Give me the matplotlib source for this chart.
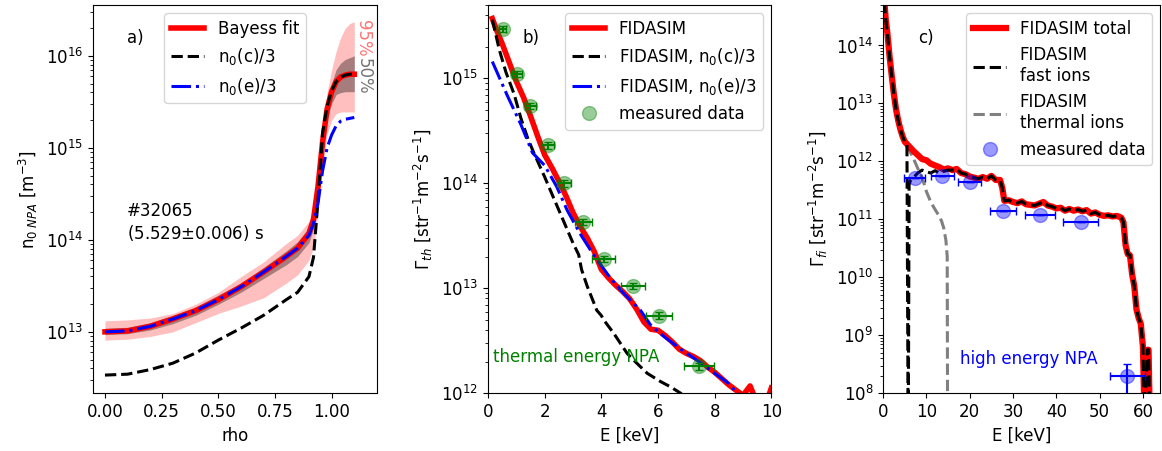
import numpy as np
import matplotlib
matplotlib.use('Agg')
import matplotlib.pyplot as plt

plt.rcParams['font.size'] = 12

######## DATA
# a) neutral density profiles (log10 values)
rho = [0, 0.1, 0.2, 0.3, 0.4, 0.5, 0.6, 0.7, 0.8, 0.85, 0.9, 0.92, 0.94, 0.96, 0.98, 1.0, 1.02, 1.04, 1.06, 1.08, 1.1]
bayes_log = [13.0, 13.01, 13.06, 13.14, 13.23, 13.35, 13.49, 13.65, 13.82, 13.91, 14.07, 14.22, 14.58, 15.06, 15.42, 15.61, 15.72, 15.77, 15.79, 15.80, 15.80]
n0c_log = [12.53, 12.54, 12.59, 12.66, 12.77, 12.91, 13.04, 13.18, 13.35, 13.43, 13.6, 13.81, 14.43, 15.16, 15.45, 15.62, 15.72, 15.77, 15.79, 15.80, 15.80]
n0e_log = [13.0, 13.01, 13.06, 13.14, 13.23, 13.35, 13.49, 13.65, 13.82, 13.91, 14.05, 14.18, 14.4, 14.75, 15.0, 15.14, 15.24, 15.29, 15.31, 15.32, 15.33]
lo95_log = [12.91, 12.92, 12.95, 13.0, 13.1, 13.2, 13.28, 13.37, 13.53, 13.62, 13.78, 13.92, 14.3, 14.8, 15.15, 15.3, 15.37, 15.39, 15.39, 15.39, 15.39]
hi95_log = [13.12, 13.13, 13.15, 13.2, 13.3, 13.43, 13.6, 13.76, 13.96, 14.05, 14.2, 14.35, 14.75, 15.25, 15.6, 15.85, 16.05, 16.2, 16.3, 16.35, 16.37]
lo50_log = [12.97, 12.98, 13.02, 13.09, 13.18, 13.3, 13.43, 13.58, 13.73, 13.82, 13.97, 14.12, 14.48, 14.95, 15.3, 15.48, 15.58, 15.6, 15.61, 15.61, 15.61]
hi50_log = [13.04, 13.05, 13.1, 13.18, 13.27, 13.4, 13.53, 13.7, 13.88, 13.98, 14.13, 14.3, 14.65, 15.13, 15.5, 15.7, 15.85, 15.92, 15.96, 15.98, 16.0]

# b) thermal fluxes
E_fid = [0.15, 0.3, 0.5, 0.75, 1.0, 1.25, 1.5, 1.75, 2.0, 2.25, 2.5, 2.75, 3.0, 3.25, 3.5, 3.75, 4.0, 4.25, 4.5, 4.75,
         5.0, 5.25, 5.5, 5.75, 6.0, 6.25, 6.5, 6.75, 7.0, 7.25, 7.5, 7.75, 8.0, 8.25, 8.5, 8.75, 9.0, 9.25, 9.4, 9.9, 10.0]
fid_log = [15.57, 15.46, 15.33, 15.15, 14.97, 14.82, 14.64, 14.45, 14.27, 14.15, 14.02, 13.88, 13.72, 13.59, 13.48, 13.35,
           13.18, 13.10, 13.03, 12.97, 12.90, 12.80, 12.68, 12.61, 12.60, 12.55, 12.49, 12.42, 12.38, 12.35, 12.31, 12.25,
           12.20, 12.14, 12.08, 12.03, 11.98, 12.07, 11.97, 11.97, 12.05]
E_fid_c = [0.15, 0.4, 0.63, 0.92, 1.16, 1.4, 1.6, 1.8, 2.0, 2.3, 2.65, 3.0, 3.2, 3.3, 3.5, 3.84, 4.0, 4.08, 4.44, 4.91,
           5.2, 5.62, 6.1, 6.45, 6.8, 7.0]
fid_c_log = [15.56, 15.27, 15.06, 14.85, 14.62, 14.43, 14.30, 14.18, 14.06, 13.87, 13.65, 13.43, 13.32, 13.18, 13.02,
             12.79, 12.74, 12.70, 12.57, 12.38, 12.30, 12.19, 12.11, 12.06, 12.0, 11.95]
E_fid_e = [0.15, 0.69, 1.16, 1.57, 2.0, 2.42, 2.8, 3.25, 3.72, 4.31, 4.79, 5.38, 5.74, 6.21, 6.8, 7.4, 8.0, 8.46, 8.7, 9.0]
fid_e_log = [15.16, 14.83, 14.56, 14.29, 14.17, 13.97, 13.74, 13.52, 13.32, 13.10, 12.95, 12.79, 12.65, 12.54, 12.42,
             12.31, 12.19, 12.10, 12.03, 11.95]
E_meas_th = [0.52, 1.03, 1.49, 2.10, 2.69, 3.36, 4.08, 5.12, 6.03, 7.43]
flux_meas_th = [2.97e15, 1.1e15, 5.5e14, 2.3e14, 1.0e14, 4.3e13, 1.9e13, 1.05e13, 5.5e12, 1.8e12]
E_err_th = [0.12, 0.18, 0.2, 0.22, 0.25, 0.3, 0.4, 0.43, 0.45, 0.53]

# c) fast ion fluxes
E_tot = [0.3, 0.6, 1.0, 1.5, 2.0, 2.5, 3.0, 3.5, 4.0, 4.5, 5.0, 5.5, 6.0, 7.0, 8.0, 9.0, 10, 11, 12, 13, 14, 15, 16, 17, 18,
         19, 20, 21, 22, 23, 24, 25, 26, 27, 27.5, 28, 29, 30, 31, 32, 33, 34, 35, 36, 37, 38, 39, 40, 41, 42, 43, 44,
         45, 46, 47, 48, 49, 50, 51, 52, 53, 54, 55, 55.5, 56, 56.5, 57, 57.5, 58, 58.5, 59, 59.5, 60, 60.4, 61, 61.3, 61.6]
tot_log = [14.75, 14.45, 14.2, 13.8, 13.47, 13.15, 12.89, 12.7, 12.55, 12.43, 12.34, 12.30, 12.26, 12.18, 12.11, 12.04,
           12.02, 11.96, 11.93, 11.90, 11.86, 11.88, 11.85, 11.87, 11.80, 11.78, 11.74, 11.72, 11.70, 11.73, 11.70, 11.75,
           11.68, 11.68, 11.55, 11.32, 11.33, 11.30, 11.28, 11.31, 11.26, 11.25, 11.24, 11.27, 11.30, 11.24, 11.22, 11.19,
           11.20, 11.15, 11.18, 11.15, 11.17, 11.14, 11.16, 11.10, 11.12, 11.08, 11.06, 11.07, 11.05, 11.06, 11.03, 10.95,
           10.55, 10.40, 10.38, 10.05, 9.85, 9.45, 9.30, 9.20, 8.80, 7.5, 8.75, 8.75, 7.5]
E_fast = [0.3, 0.6, 1.0, 1.5, 2.0, 2.5, 3.0, 3.5, 4.0, 4.5, 5.0, 5.5, 5.8, 6.0, 6.3, 7.0, 8.0, 9.0, 10, 11, 12, 13, 14, 15, 16]
fast_log = [14.75, 14.45, 14.2, 13.8, 13.47, 13.15, 12.89, 12.7, 12.55, 12.43, 12.34, 12.30, 7.0, 11.60, 11.67, 11.72,
            11.80, 11.85, 11.82, 11.80, 11.84, 11.80, 11.83, 11.85, 11.85]
E_therm = [0.3, 0.6, 1.0, 1.5, 2.0, 2.5, 3.0, 3.5, 4.0, 4.5, 5.0, 5.5, 6.0, 7, 8, 9, 10, 11, 12, 13, 13.5, 14, 14.5, 14.8, 14.9]
therm_log = [14.75, 14.45, 14.2, 13.8, 13.47, 13.15, 12.89, 12.7, 12.55, 12.43, 12.34, 12.28, 12.2, 12.05, 11.88, 11.73,
             11.48, 11.3, 11.17, 11.05, 10.97, 10.85, 10.64, 10.36, 7.0]
E_meas_fi = [7.3, 13.7, 20.0, 27.7, 36.2, 45.6, 56.4]
flux_meas_fi = [5.1e11, 5.5e11, 4.5e11, 1.4e11, 1.2e11, 9e10, 1.95e8]
E_err_fi = [2.4, 2.6, 2.7, 3.1, 3.5, 4.0, 4.0]
flux_err_fi = [[0, 0, 0, 0, 0, 0, 1.3e8], [0, 0, 0, 0, 0, 0, 1.3e8]]
#####################

fig = plt.figure(figsize=(11.62, 4.51), dpi=100)

## a) neutral density
ax1 = fig.add_axes([0.080, 0.128, 0.2444, 0.861])
ax1.fill_between(rho, 10**np.array(lo95_log), 10**np.array(hi95_log), color='red', alpha=0.25, lw=0)
ax1.fill_between(rho, 10**np.array(lo50_log), 10**np.array(hi50_log), color='k', alpha=0.35, lw=0)
ax1.plot(rho, 10**np.array(bayes_log), color='red', lw=4, label='Bayess fit')
ax1.plot(rho, 10**np.array(n0c_log), 'k--', lw=2.2, label=r'n$_0$(c)/3')
ax1.plot(rho, 10**np.array(n0e_log), 'b-.', lw=2.2, label=r'n$_0$(e)/3')
ax1.set_yscale('log')
ax1.set_xlim(-0.053, 1.2)
ax1.set_ylim(2.15e12, 3.57e16)
ax1.set_xticks([0, 0.25, 0.5, 0.75, 1.0])
ax1.set_xlabel('rho')
ax1.set_ylabel(r'n$_{0\ NPA}$ [m$^{-3}$]')
ax1.legend(loc='upper center')
ax1.text(0.12, 0.915, 'a)', transform=ax1.transAxes, va='center')
ax1.text(0.12, 0.44, '#32065\n(5.529$\\pm$0.006) s', transform=ax1.transAxes, va='center')
ax1.text(1.14, 1.55e16, '95%', color='red', alpha=0.55, rotation=-90, ha='center', va='center')
ax1.text(1.14, 6.0e15, '50%', color='k', alpha=0.55, rotation=-90, ha='center', va='center')

## b) thermal flux
ax2 = fig.add_axes([0.420, 0.128, 0.2438, 0.861])
ax2.plot(E_fid, 10**np.array(fid_log), color='red', lw=4, label='FIDASIM')
ax2.plot(E_fid_c, 10**np.array(fid_c_log), 'k--', lw=2.2, label=r'FIDASIM, n$_0$(c)/3')
ax2.plot(E_fid_e, 10**np.array(fid_e_log), 'b-.', lw=2.2, label=r'FIDASIM, n$_0$(e)/3')
ax2.errorbar(E_meas_th, flux_meas_th, xerr=E_err_th, yerr=np.array(flux_meas_th) * 0.07,
             fmt='none', ecolor='green', capsize=3, elinewidth=1.5)
ax2.plot(E_meas_th, flux_meas_th, 'o', color='green', alpha=0.4, ms=10, label='measured data')
ax2.set_yscale('log')
ax2.set_xlim(0, 10)
ax2.set_ylim(1e12, 5e15)
ax2.set_xlabel('E [keV]')
ax2.set_ylabel(r'$\Gamma_{th}$ [str$^{-1}$m$^{-2}$s$^{-1}$]')
ax2.legend(loc='upper right')
ax2.text(0.12, 0.915, 'b)', transform=ax2.transAxes, va='center')
ax2.text(0.19, 2.2e12, 'thermal energy NPA', color='green', va='center')

## c) fast ion flux
ax3 = fig.add_axes([0.760, 0.128, 0.2385, 0.861])
ax3.plot(E_tot, 10**np.array(tot_log), color='red', lw=4.5, label='FIDASIM total', zorder=2)
ax3.plot(E_fast + E_tot[23:], 10**np.array(fast_log + tot_log[23:]), 'k--', lw=2.2,
         label='FIDASIM\nfast ions', zorder=3)
ax3.plot(E_therm, 10**np.array(therm_log), '--', color='gray', lw=2.2,
         label='FIDASIM\nthermal ions', zorder=1)
ax3.errorbar(E_meas_fi, flux_meas_fi, xerr=E_err_fi, yerr=flux_err_fi,
             fmt='none', ecolor='blue', capsize=3, elinewidth=1.5, zorder=4)
ax3.plot(E_meas_fi, flux_meas_fi, 'o', color='blue', alpha=0.4, ms=10, label='measured data', zorder=4)
ax3.set_yscale('log')
ax3.set_xlim(0, 64)
ax3.set_ylim(1e8, 5e14)
ax3.set_xticks([0, 10, 20, 30, 40, 50, 60])
ax3.set_xlabel('E [keV]')
ax3.set_ylabel(r'$\Gamma_{fi}$ [str$^{-1}$m$^{-2}$s$^{-1}$]')
ax3.legend(loc='upper right')
ax3.text(0.127, 0.915, 'c)', transform=ax3.transAxes, va='center')
ax3.text(17.8, 3.9e8, 'high energy NPA', color='blue', va='center')

fig.savefig('out.png', dpi=100)
